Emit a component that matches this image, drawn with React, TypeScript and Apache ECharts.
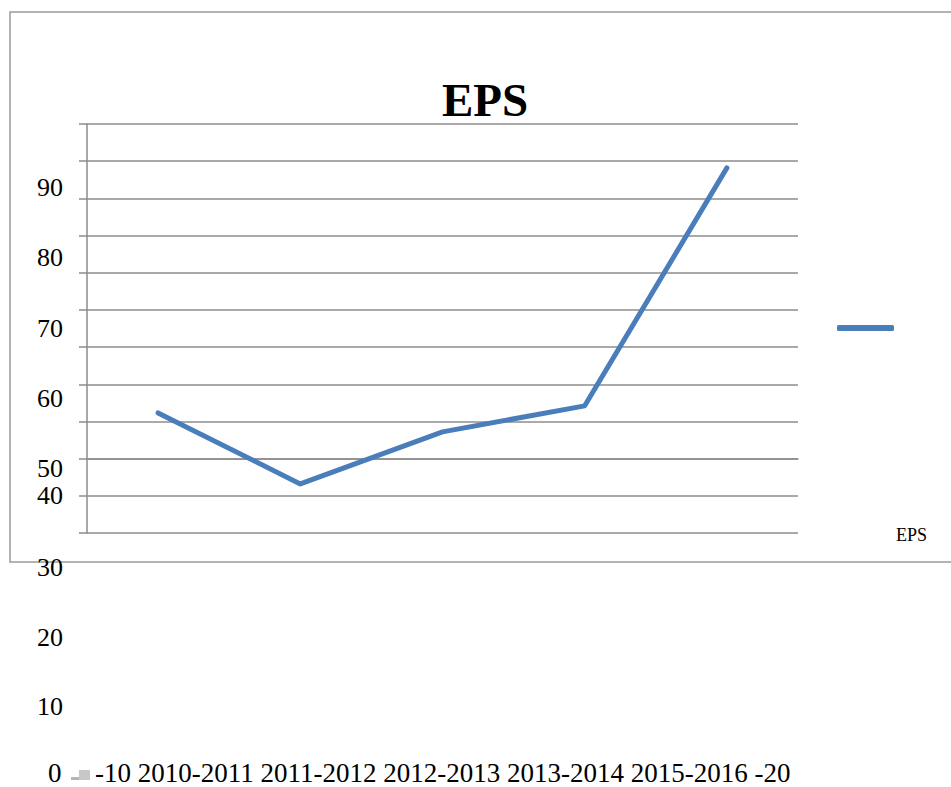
import React, { useEffect, useRef } from "react";
import * as echarts from "echarts";

const categories = ["2010-2011", "2011-2012", "2012-2013", "2013-2014", "2015-2016"];
const epsValues = [12.3, -6.8, 7.2, 14.2, 78.2];
const yTickLabels = ["90", "80", "70", "60", "50", "40", "30", "20", "10", "0", "-10", "-20"];
const seriesName = "EPS";
const titleText = "EPS";

// layout of the displaced tick labels (as in the reference)
const labelYs = [187, 257, 328, 398, 468, 495, 567, 637, 706];

const FONT = "Liberation Serif";
const LINE_COLOR = "#4A7EBB";
const GRID_COLOR = "#8c8c8c";

export default function App() {
  const ref = useRef<HTMLDivElement>(null);
  useEffect(() => {
    if (!ref.current) return;
    const chart = echarts.init(ref.current, undefined, { renderer: "svg" });

    const sideLabels = yTickLabels.slice(0, 9).map((t, i) => ({
      type: "text",
      x: 63,
      y: labelYs[i],
      style: {
        text: t,
        fontFamily: FONT,
        fontSize: 26,
        fill: "#000",
        align: "right",
        verticalAlign: "middle",
      },
    }));

    const bottomRow = `${yTickLabels[10]} ${categories.join(" ")} ${yTickLabels[11]}`;

    chart.setOption({
      animation: false,
      backgroundColor: "#fff",
      title: {
        text: titleText,
        left: 442,
        top: 76,
        padding: 0,
        textStyle: {
          fontFamily: FONT,
          fontWeight: "bold",
          fontSize: 47,
          color: "#000",
        },
      },
      legend: {
        left: 837,
        top: 325,
        padding: 0,
        itemWidth: 57,
        itemHeight: 6,
        icon: "roundRect",
        formatter: () => "",
        data: [{ name: seriesName, itemStyle: { color: LINE_COLOR } }],
      },
      grid: { left: 87, right: 153, top: 124, bottom: 254, containLabel: false },
      xAxis: {
        type: "category",
        data: categories,
        boundaryGap: true,
        axisLine: { show: true, lineStyle: { color: GRID_COLOR, width: 1.5 } },
        axisTick: { show: false },
        axisLabel: { show: false },
        splitLine: { show: false },
      },
      yAxis: {
        type: "value",
        min: -20,
        max: 90,
        interval: 10,
        axisLine: { show: true, lineStyle: { color: GRID_COLOR, width: 1.5 } },
        axisTick: { show: true, length: 8, lineStyle: { color: GRID_COLOR, width: 1.5 } },
        axisLabel: { show: false },
        splitLine: { show: true, lineStyle: { color: GRID_COLOR, width: 1.5 } },
      },
      series: [
        {
          name: seriesName,
          type: "line",
          data: epsValues,
          showSymbol: false,
          symbol: "none",
          lineStyle: { color: LINE_COLOR, width: 5, cap: "round", join: "round" },
          itemStyle: { color: LINE_COLOR },
        },
      ],
      graphic: [
        {
          type: "rect",
          shape: { x: 10, y: 12, width: 960, height: 550 },
          style: { fill: "none", stroke: "#9a9a9a", lineWidth: 1.5 },
          silent: true,
          z: -1,
        },
        ...sideLabels,
        {
          type: "text",
          x: 48,
          y: 773,
          style: {
            text: yTickLabels[9],
            fontFamily: FONT,
            fontSize: 27,
            fill: "#000",
            verticalAlign: "middle",
          },
        },
        {
          type: "rect",
          shape: { x: 71, y: 777, width: 8, height: 3 },
          style: { fill: "#b5b5b5" },
        },
        {
          type: "rect",
          shape: { x: 79, y: 770, width: 11, height: 10 },
          style: { fill: "#c8c8c8" },
        },
        {
          type: "text",
          x: 95,
          y: 773,
          style: {
            text: bottomRow,
            fontFamily: FONT,
            fontSize: 27,
            fill: "#000",
            verticalAlign: "middle",
          },
        },
        {
          type: "text",
          x: 896,
          y: 535,
          style: {
            text: seriesName,
            fontFamily: FONT,
            fontSize: 18,
            fill: "#000",
            verticalAlign: "middle",
          },
        },
      ],
    });
    return () => chart.dispose();
  }, []);
  return (
    <div
      ref={ref}
      style={{ position: "absolute", left: 0, top: 0, width: 951, height: 787 }}
    />
  );
}
